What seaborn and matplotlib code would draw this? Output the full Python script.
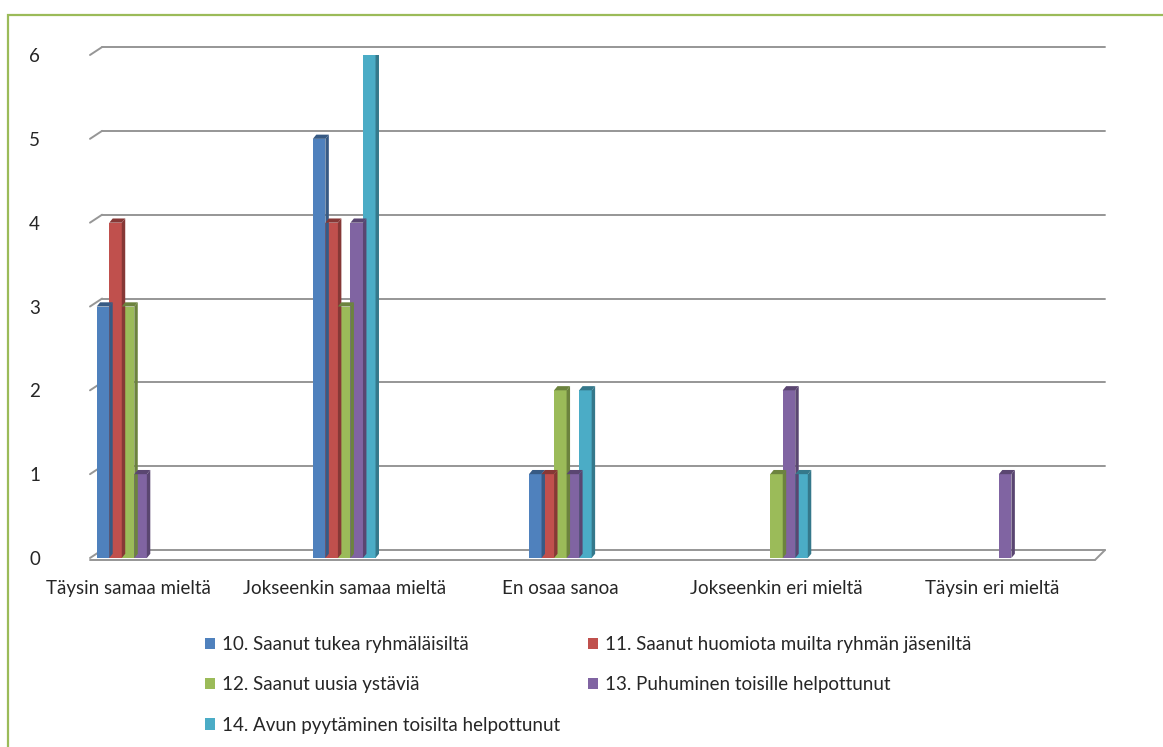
import matplotlib
matplotlib.use("Agg")
import matplotlib.pyplot as plt
import matplotlib.patches as mpatches
import pandas as pd
import seaborn as sns

# data
kategoriat = ["Täysin samaa mieltä", "Jokseenkin samaa mieltä", "En osaa sanoa",
              "Jokseenkin eri mieltä", "Täysin eri mieltä"]
sarjat = ["10. Saanut tukea ryhmäläisiltä",
          "11. Saanut huomiota muilta ryhmän jäseniltä",
          "12. Saanut uusia ystäviä",
          "13. Puhuminen toisille helpottunut",
          "14. Avun pyytäminen toisilta helpottunut"]
s10 = [3, 5, 1, 0, 0]
s11 = [4, 4, 1, 0, 0]
s12 = [3, 3, 2, 1, 0]
s13 = [1, 4, 1, 2, 1]
s14 = [0, 6, 2, 1, 0]
yticks = [0, 1, 2, 3, 4, 5, 6]

colors = ["#4F81BD", "#C0504D", "#9BBB59", "#8064A2", "#4BACC6"]

rows = []
for nimi, arvot in zip(sarjat, [s10, s11, s12, s13, s14]):
    for k, v in zip(kategoriat, arvot):
        rows.append({"kategoria": k, "sarja": nimi, "arvo": v})
df = pd.DataFrame(rows)

sns.set_style("white")
plt.rcParams["font.family"] = ["Lato", "DejaVu Sans"]

fig = plt.figure(figsize=(11.63, 7.47), dpi=100)
ax = fig.add_axes([90 / 1163, 189 / 747, 1015 / 1163, 503 / 747])

sns.barplot(data=df, x="kategoria", y="arvo", hue="sarja", order=kategoriat,
            hue_order=sarjat, palette=colors, saturation=1, width=0.29, ax=ax,
            legend=True, linewidth=0, zorder=3)

# darker right side and top to hint the 3D look
for bar in ax.patches:
    h = bar.get_height()
    if h <= 0:
        continue
    x0 = bar.get_x() + bar.get_width()
    fc = bar.get_facecolor()
    dark = tuple(c * 0.7 for c in fc[:3])
    side = mpatches.Polygon([(x0, 0), (x0 + 0.016, 0.05), (x0 + 0.016, h + 0.05), (x0, h)],
                            closed=True, color=dark, zorder=3, lw=0)
    ax.add_patch(side)
    top = mpatches.Polygon([(bar.get_x(), h), (x0, h), (x0 + 0.016, h + 0.05),
                            (bar.get_x() + 0.016, h + 0.05)],
                           closed=True, color=dark, zorder=3, lw=0)
    ax.add_patch(top)

xl, xr = -0.176, 4.52
ax.set_xlim(xl, xr)
ax.set_ylim(0, 6)

# gridlines drawn on the back wall
dx, dy = 0.056, 0.095
gc = "#969696"
for v in yticks:
    ax.plot([xl + dx, xr], [v + dy, v + dy], color=gc, lw=1.4, zorder=1, clip_on=False)
    ax.plot([xl, xl + dx], [v, v + dy], color=gc, lw=1.4, zorder=1, clip_on=False)
ax.plot([xl, xr - dx * 0.8], [-0.02, -0.02], color=gc, lw=1.4, zorder=1, clip_on=False)
ax.plot([xr - dx * 0.8, xr], [-0.02, dy], color=gc, lw=1.4, zorder=1, clip_on=False)

for s in ax.spines.values():
    s.set_visible(False)
ax.set_yticks(yticks)
ax.set_yticklabels([str(v) for v in yticks], fontsize=13.5)
ax.tick_params(axis="y", length=0, pad=36)
ax.tick_params(axis="x", length=0, pad=16, labelsize=13.5)
ax.set_xlabel("")
ax.set_ylabel("")

handles, labels = ax.get_legend_handles_labels()
ax.get_legend().remove()
order = [0, 2, 4, 1, 3]
fig.legend([handles[i] for i in order], [labels[i] for i in order],
           loc="upper left", bbox_to_anchor=(188 / 1163, 1 - 619 / 747), ncol=2,
           frameon=False, fontsize=13.5, handlelength=0.55, handleheight=0.55,
           handletextpad=0.35, labelspacing=1.25, columnspacing=1.5)

# green chart frame
fig.patches.append(mpatches.Rectangle((8 / 1163, -0.01), 1.02, 1 - 15 / 747 + 0.01,
                                      transform=fig.transFigure, fill=False,
                                      edgecolor="#9BBB59", lw=1.6))

fig.savefig("out.png", dpi=100)
